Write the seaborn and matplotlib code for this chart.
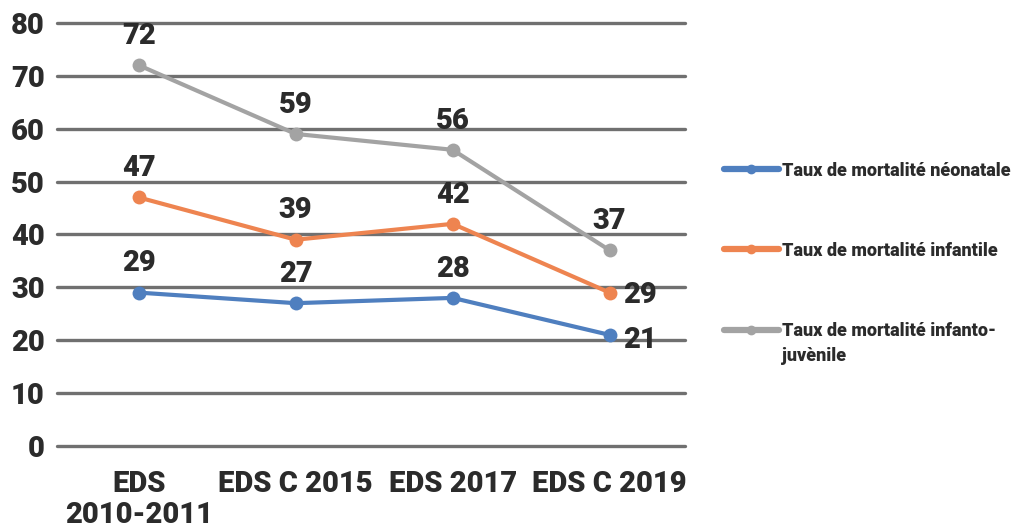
import matplotlib
matplotlib.use("Agg")
import matplotlib.pyplot as plt
import seaborn as sns
import pandas as pd

# Survey rounds and mortality rates (per 1000 live births)
surveys = ["EDS\n2010-2011", "EDS C 2015", "EDS 2017", "EDS C 2019"]
neonatale = [29, 27, 28, 21]
infantile = [47, 39, 42, 29]
infanto_juvenile = [72, 59, 56, 37]
series_names = [
    "Taux de mortalité néonatale",
    "Taux de mortalité infantile",
    "Taux de mortalité infanto-juvènile",
]
# legend labels: the long one wraps after the hyphen
legend_first_lines = ["Taux de mortalité néonatale", "Taux de mortalité infantile",
                      "Taux de mortalité infanto-"]
legend_wrap = "juvènile"
y_ticks = [0, 10, 20, 30, 40, 50, 60, 70, 80]

colors = ["#4F7FBF", "#EE8450", "#A3A3A3"]

sns.set_theme(style="white")
plt.rcParams["font.family"] = ["Roboto", "DejaVu Sans"]
text_color = "#2b2b2b"
weight = "heavy"

rows = []
for name, vals in zip(series_names, [neonatale, infantile, infanto_juvenile]):
    for s, v in zip(surveys, vals):
        rows.append({"Enquête": s, "Taux": v, "Indicateur": name})
df = pd.DataFrame(rows)

fig = plt.figure(figsize=(10.26, 5.32), dpi=100)
ax = fig.add_axes([0.0556, 0.1617, 0.612, 0.7953])

for yt in y_ticks:
    ax.axhline(yt, color="#707070", lw=2.4, zorder=0, clip_on=False)

sns.lineplot(
    data=df, x="Enquête", y="Taux", hue="Indicateur",
    palette=colors, hue_order=series_names, sort=False,
    marker="o", markersize=10, markeredgewidth=0, linewidth=3,
    ax=ax, legend=False,
)

ax.set_ylim(0, 80)
ax.set_xlim(-0.52, 3.48)
ax.set_yticks(y_ticks)
ax.set_xlabel("")
ax.set_ylabel("")
for sp in ax.spines.values():
    sp.set_visible(False)
ax.tick_params(axis="both", length=0, labelsize=21, colors=text_color)
ax.tick_params(axis="y", pad=9)
ax.tick_params(axis="x", pad=17)
for lab in ax.get_xticklabels() + ax.get_yticklabels():
    lab.set_fontweight(weight)
    lab.set_linespacing(1.15)

# Value labels
label_style = dict(fontsize=21, fontweight=weight, color=text_color)
for vals in [neonatale, infantile, infanto_juvenile]:
    for i, v in enumerate(vals):
        ax.annotate(str(v), (i, v), xytext=(0, 11), textcoords="offset points",
                    ha="center", va="bottom", **label_style)
# Last-round labels for the two lower series sit to the right of the point
ax.texts[3].set_position((10, -4)); ax.texts[3].set_ha("left"); ax.texts[3].set_va("center")
ax.texts[7].set_position((10, -2)); ax.texts[7].set_ha("left"); ax.texts[7].set_va("center")

handles = [plt.Line2D([0], [0], color=c, lw=4.5, marker="o", markersize=6) for c in colors]
leg = fig.legend(handles, legend_first_lines, loc="upper left", bbox_to_anchor=(0.699, 0.71),
                 frameon=False, fontsize=13, labelspacing=3.45, handlelength=3.0,
                 handletextpad=0.2, borderaxespad=0)
for t in leg.get_texts():
    t.set_fontweight(weight)
    t.set_color(text_color)

# second line of the wrapped legend label
fig.canvas.draw()
bb = leg.get_texts()[2].get_window_extent().transformed(fig.transFigure.inverted())
fig.text(bb.x0, bb.y0 - 0.013, legend_wrap, ha="left", va="top", fontsize=13,
         fontweight=weight, color=text_color)

fig.savefig("out.png", dpi=100)
